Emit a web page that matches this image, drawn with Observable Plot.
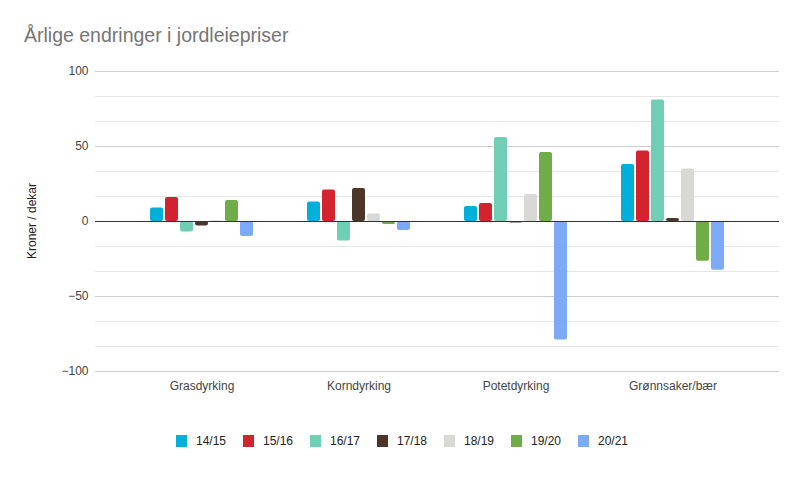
<!DOCTYPE html>
<html>
<head>
<meta charset="utf-8">
<script src="https://cdn.jsdelivr.net/npm/d3@7"></script>
<script src="https://cdn.jsdelivr.net/npm/@observablehq/plot@0.6"></script>
<style>
  html, body { margin: 0; padding: 0; background: #fff; }
  body { position: relative; width: 805px; height: 478px; overflow: hidden; font-family: Arial, "Liberation Sans", sans-serif; }
  #title { position: absolute; left: 24px; top: 25px; font-size: 19.5px; line-height: 20px; color: #757575; white-space: nowrap; }
  #chart { position: absolute; left: 0; top: 50px; }
  #chart svg { display: block; }
  #ylabel { position: absolute; left: 32px; top: 221px; transform: translate(-50%, -50%) rotate(-90deg); font-size: 12px; color: #222; white-space: nowrap; }
  #legend { position: absolute; left: 176px; top: 434px; display: flex; }
  .item { display: flex; align-items: center; width: 67px; font-size: 12px; color: #222; }
  .sw { width: 11px; height: 12px; margin-right: 9px; }
</style>
</head>
<body>
<div id="title">Årlige endringer i jordleiepriser</div>
<div id="chart"></div>
<div id="ylabel">Kroner / dekar</div>
<div id="legend"></div>
<script>
const categories = ["Grasdyrking", "Korndyrking", "Potetdyrking", "Grønnsaker/bær"];
const seriesNames = ["14/15", "15/16", "16/17", "17/18", "18/19", "19/20", "20/21"];
const colors = ["#00b0d8", "#d2232f", "#6fceb4", "#4b3628", "#d8d8d4", "#70ac47", "#7caaf7"];

const s1415 = [9, 13, 10, 38];
const s1516 = [16, 21, 12, 47];
const s1617 = [-7, -13, 56, 81];
const s1718 = [-3, 22, -1, 2];
const s1819 = [0.5, 5, 18, 35];
const s1920 = [14, -2, 46, -26.5];
const s2021 = [-10, -6, -79, -32.5];

const yTicks = [-100, -50, 0, 50, 100];
const majorGrid = [-100, -50, 50, 100];
const minorGrid = [-250/3, -200/3, -100/3, -50/3, 50/3, 100/3, 200/3, 250/3];

const seriesValues = [s1415, s1516, s1617, s1718, s1819, s1920, s2021];
const rows = [];
categories.forEach((c, i) => {
  seriesNames.forEach((s, j) => rows.push({category: c, series: s, value: seriesValues[j][i]}));
});

const font = 'Arial, "Liberation Sans", sans-serif';
const chart = Plot.plot({
  width: 805,
  height: 370,
  marginTop: 21,
  marginBottom: 49,
  marginLeft: 122,
  marginRight: 54,
  style: {fontFamily: font, fontSize: "12px", color: "#444", background: "transparent"},
  facet: {data: rows, x: "category"},
  fx: {domain: categories, padding: 0, axis: "bottom", tickSize: 0, tickPadding: 10, label: null},
  x: {domain: seriesNames, axis: null, paddingInner: 2/15, paddingOuter: 1.8},
  y: {domain: [-100, 100], ticks: yTicks, tickSize: 0, tickPadding: 35, label: null},
  color: {domain: seriesNames, range: colors},
  marks: [
    Plot.ruleY(minorGrid, {stroke: "#e6e6e6", insetLeft: -28, insetRight: -28}),
    Plot.ruleY(majorGrid, {stroke: "#cccccc", insetLeft: -28, insetRight: -28}),
    Plot.barY(rows, {x: "series", y: "value", fill: "series", rx: 2}),
    Plot.ruleY([0], {stroke: "#333", insetLeft: -28, insetRight: -28})
  ]
});
document.getElementById("chart").appendChild(chart);

const legend = document.getElementById("legend");
seriesNames.forEach((s, i) => {
  const item = document.createElement("div");
  item.className = "item";
  const sw = document.createElement("div");
  sw.className = "sw";
  sw.style.background = colors[i];
  const t = document.createElement("span");
  t.textContent = s;
  item.appendChild(sw);
  item.appendChild(t);
  legend.appendChild(item);
});
</script>
</body>
</html>
